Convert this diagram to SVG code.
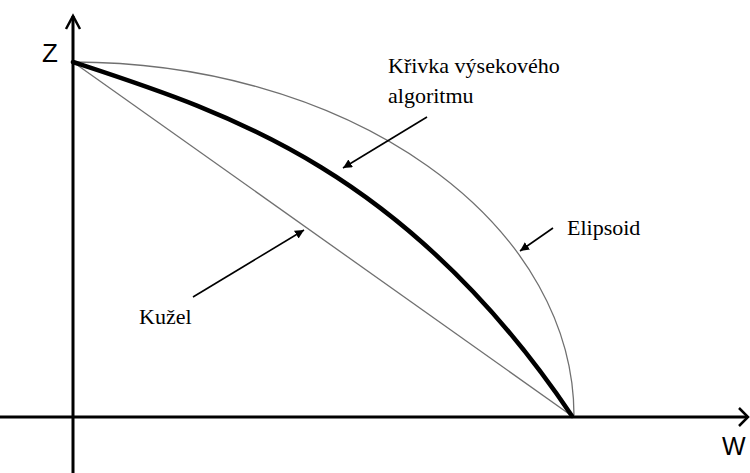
<svg xmlns="http://www.w3.org/2000/svg" width="750" height="473" viewBox="0 0 750 473">
<style>
.axis{stroke:#000;stroke-width:3;fill:none}
.head{stroke:#000;stroke-width:2.5;fill:none;stroke-linejoin:miter}
.thin{stroke:#707070;stroke-width:1.3;fill:none}
.thick{stroke:#000;stroke-width:4.5;fill:none;stroke-linecap:round}
.lbl{stroke:#000;stroke-width:1.6;fill:none}
.serif{font-family:"Liberation Serif","Times New Roman",serif;font-size:22px;fill:#000}
.sans{font-family:"Liberation Sans",Arial,sans-serif;fill:#000}
</style>
<defs>
<marker id="tri" viewBox="0 0 10 10" refX="10" refY="5" markerWidth="9" markerHeight="9" markerUnits="userSpaceOnUse" orient="auto">
<path d="M0,0 L10,5 L0,10 z" fill="#000"/>
</marker>
</defs>
<rect width="750" height="473" fill="#fff"/>
<g id="axes">
<line class="axis" x1="73" y1="16" x2="73" y2="473"/>
<line class="axis" x1="0" y1="417" x2="747" y2="417"/>
<polyline class="head" points="66,29 73,16 80,29"/>
<polyline class="head" points="739,408 748,417 739,426"/>
<text class="sans" x="42" y="62" font-size="26">Z</text>
<text class="sans" x="722" y="455" font-size="25">W</text>
</g>
<g id="ellipsoid">
<path class="thin" d="M73,62 A501,354 0 0 1 574,416"/>
</g>
<g id="cone">
<line class="thin" x1="73" y1="62" x2="572" y2="416"/>
</g>
<g id="curve">
<path class="thick" d="M73,62 C225,112 405,168 572,416"/>
</g>
<g id="connectors">
<line class="lbl" x1="427" y1="117" x2="343" y2="168" marker-end="url(#tri)"/>
<line class="lbl" x1="553" y1="228" x2="520" y2="251" marker-end="url(#tri)"/>
<line class="lbl" x1="193" y1="297" x2="304" y2="230" marker-end="url(#tri)"/>
</g>
<g id="labels">
<text class="serif" x="388" y="73">Křivka výsekového</text>
<text class="serif" x="388" y="103">algoritmu</text>
<text class="serif" x="567" y="235">Elipsoid</text>
<text class="serif" x="139" y="324">Kužel</text>
</g>
</svg>
